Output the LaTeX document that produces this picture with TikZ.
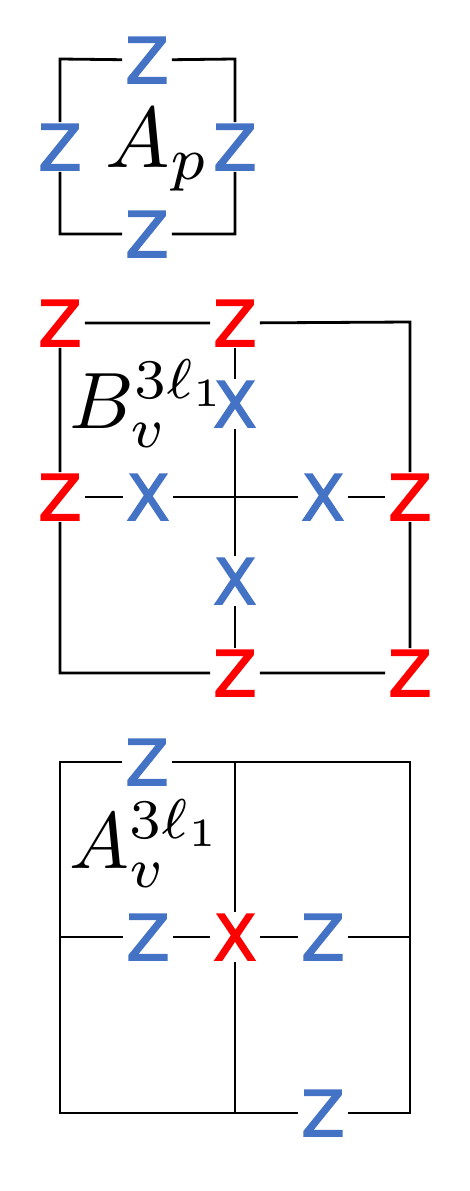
\documentclass[tikz,border=0pt]{standalone}
\usepackage{fontspec}
\newfontfamily\zfont[FakeBold=2.5]{DejaVu Sans}
\definecolor{qblue}{HTML}{4472C4}
\definecolor{qred}{HTML}{FF0000}
\tikzset{
  op/.style={inner sep=0pt, minimum width=52pt, minimum height=52pt, font=\zfont\fontsize{63}{63}\selectfont},
  bz/.style={op, text=qblue},
  rz/.style={op, text=qred},
  edge/.style={line width=2.8pt, line cap=rect},
  mlabel/.style={inner sep=0pt, anchor=base west, font=\normalsize}
}
\begin{document}
\begin{tikzpicture}[x=1pt,y=-1pt]
\useasboundingbox (0,0) rectangle (470,1191);
% ---------- A_p ----------
\node[bz] (pt) at (147,60) {Z};
\node[bz] (pl) at (60,147) {Z};
\node[bz] (pr) at (235,147) {Z};
\node[bz] (pb) at (147,234) {Z};
\coordinate (p1) at (60,59);
\coordinate (p2) at (235,59);
\coordinate (p3) at (235,234);
\coordinate (p4) at (60,234);
\draw[edge] (pt) -- (p2) -- (pr) -- (p3) -- (pb) -- (p4) -- (pl) -- (p1) -- (pt);
\node[mlabel, scale=8.6] (ap) at (104,167) {$A_p$};
% ---------- B_v ----------
\node[rz] (b1) at (60,323) {Z};
\node[rz] (b2) at (235,323) {Z};
\node[rz] (b3) at (60,497) {Z};
\node[rz] (b4) at (410,497) {Z};
\node[rz] (b5) at (235,673) {Z};
\node[rz] (b6) at (410,673) {Z};
\node[bz] (bx1) at (235,404) {X};
\node[bz] (bx2) at (148,497) {X};
\node[bz] (bx3) at (323,497) {X};
\node[bz] (bx4) at (235,581) {X};
\coordinate (bc) at (235,497);
\coordinate (bne) at (410,322);
\coordinate (bsw) at (60,673);
\draw[edge] (b1) -- (b2) -- (bne) -- (b4) -- (b6) -- (b5) -- (bsw) -- (b3) -- (b1);
\draw[edge] (b2) -- (bx1) -- (bc) -- (bx4) -- (b5);
\draw[edge] (b3) -- (bx2) -- (bc) -- (bx3) -- (b4);
\node[mlabel, scale=8] (bl) at (68,428) {$B_v^{3\ell_1}$};
% ---------- A_v ----------
\node[bz] (a1) at (147,762) {Z};
\node[bz] (a2) at (148,937) {Z};
\node[rz] (ax) at (235,937) {X};
\node[bz] (a3) at (323,937) {Z};
\node[bz] (a4) at (323,1113) {Z};
\coordinate (anw) at (60,762);
\coordinate (an) at (235,762);
\coordinate (ane) at (410,762);
\coordinate (aw) at (60,937);
\coordinate (ae) at (410,937);
\coordinate (asw) at (60,1113);
\coordinate (as) at (235,1113);
\coordinate (ase) at (410,1113);
\draw[edge] (a1) -- (ane) -- (ase) -- (a4) -- (asw) -- (anw) -- (a1);
\draw[edge] (an) -- (ax) -- (as);
\draw[edge] (aw) -- (a2) -- (ax) -- (a3) -- (ae);
\node[mlabel, scale=8] (al) at (68,868) {$A_v^{3\ell_1}$};
\end{tikzpicture}
\end{document}
